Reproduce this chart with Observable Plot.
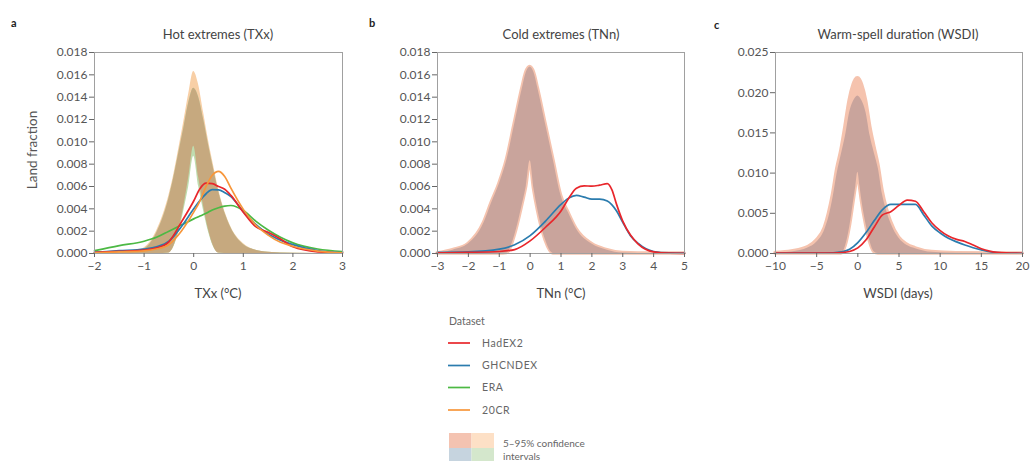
<!DOCTYPE html>
<html><head><meta charset="utf-8">
<script src="https://cdn.jsdelivr.net/npm/d3@7"></script>
<script src="https://cdn.jsdelivr.net/npm/@observablehq/plot@0.6"></script>
<style>
body{margin:0;background:#fff;font-family:Lato,"Open Sans",sans-serif;}
#root{position:relative;width:1030px;height:461px;overflow:hidden;background:#fff;}
.t{position:absolute;white-space:nowrap;transform:translate(-50%,-50%);color:#444;font-size:13px;}
.letter{position:absolute;font-weight:bold;font-size:11px;color:#222;transform:translate(0,-50%);}
.ylab{position:absolute;white-space:nowrap;color:#555;font-size:13.5px;transform:translate(-50%,-50%) rotate(-90deg);}
svg.panel{position:absolute;top:0;}
</style></head><body><div id="root"></div>
<script>
// ---------- Panel a: Hot extremes (TXx) ----------
const xA = [-2,-1.5,-1,-0.75,-0.5,-0.25,0,0.125,0.25,0.375,0.5,0.625,0.75,1,1.25,1.5,1.75,2,2.5,3];
const hadex2A = [0.0001,0.0002,0.0003,0.0005,0.00105,0.0028,0.0047,0.0058,0.0063,0.00625,0.006,0.00575,0.0052,0.0037,0.0024,0.0019,0.0013,0.0006,0.00015,0.00005];
const ghcndexA = [0.0001,0.00025,0.0004,0.0006,0.0011,0.0024,0.004,0.00475,0.00535,0.00572,0.0057,0.00545,0.0051,0.00375,0.0026,0.00175,0.0012,0.0008,0.00025,0.00006];
const eraA = [0.00025,0.0007,0.0011,0.00145,0.002,0.00255,0.0031,0.00335,0.0036,0.0039,0.0041,0.00425,0.0043,0.00385,0.0029,0.0021,0.00145,0.00095,0.0004,0.00018];
const c20crA = [0.00006,0.00015,0.00024,0.0004,0.0008,0.002,0.0037,0.0047,0.006,0.007,0.00735,0.0069,0.00585,0.00395,0.00255,0.00165,0.001,0.00065,0.00022,0.00006];
const xBandA = [-2,-1.5,-1.25,-1,-0.75,-0.5,-0.4,-0.3,-0.2,-0.1,0,0.1,0.2,0.3,0.4,0.5,0.75,1,1.25,1.5,2,3];
const bandHiA = [0,0.00005,0.00012,0.0004,0.0018,0.0049,0.0068,0.009,0.0112,0.0135,0.0148,0.014,0.012,0.0097,0.0076,0.0056,0.0023,0.0008,0.0003,0.00012,0.00003,0];
const bandLoA = [0,0,0,0,0,0.00005,0.00065,0.0021,0.0042,0.0068,0.0096,0.0068,0.0042,0.0021,0.00065,0.00005,0,0,0,0,0,0];
const band20crHiA = [0,0.00006,0.00014,0.0005,0.002,0.0052,0.0071,0.0094,0.0118,0.0143,0.0163,0.0151,0.0126,0.0101,0.0079,0.0058,0.0024,0.0009,0.0003,0.00012,0.00003,0];
const bandEraLoA = [0,0,0,0,0,0.00005,0.0006,0.0019,0.0038,0.006,0.0087,0.006,0.0038,0.0019,0.0006,0.00005,0,0,0,0,0,0];
const xTicksA = [-2,-1,0,1,2,3];
const yTicksAB = [0,0.002,0.004,0.006,0.008,0.010,0.012,0.014,0.016,0.018];

// ---------- Panel b: Cold extremes (TNn) ----------
const xB = [-3,-2,-1,-0.5,0,0.5,1,1.25,1.5,1.75,2,2.25,2.5,2.65,2.8,3,3.25,3.5,4,4.5,5];
const hadex2B = [0.00006,0.0001,0.00018,0.00035,0.00113,0.00235,0.0038,0.00495,0.00585,0.00606,0.00603,0.00612,0.00625,0.0057,0.0044,0.0029,0.00165,0.00085,0.00015,0.00003,0.00002];
const ghcndexB = [0.0001,0.00015,0.00039,0.00078,0.0016,0.0029,0.0044,0.00496,0.0052,0.00505,0.00487,0.00487,0.0047,0.00435,0.0038,0.0028,0.0016,0.0009,0.00018,0.00005,0.00003];
const xBandB = [-3,-2.5,-2,-1.5,-1.25,-1,-0.75,-0.5,-0.25,-0.125,0,0.125,0.25,0.5,0.75,1,1.25,1.5,2,2.5,3,4,5];
const bandHiB = [0,0.0003,0.00085,0.0027,0.0045,0.0062,0.0084,0.0116,0.0148,0.0162,0.0167,0.0162,0.0148,0.0116,0.0084,0.0052,0.0036,0.0022,0.00085,0.0003,0.00005,0,0];
const bandLoB = [0,0,0,0,0,0,0.00005,0.0016,0.0044,0.006,0.0083,0.0058,0.0039,0.0012,0,0,0,0,0,0,0,0,0];
const xTicksB = [-3,-2,-1,0,1,2,3,4,5];

// ---------- Panel c: Warm-spell duration (WSDI) ----------
const xC = [-10,-5,-3,-2,-1,0,1,2,3,4,5,6,7,8,9,10,11,12,13,14,15,16,18,20];
const hadex2C = [0.00004,0.00004,0.00005,0.0001,0.00025,0.0007,0.0017,0.0033,0.0048,0.0052,0.006,0.00665,0.0065,0.0052,0.0038,0.00285,0.00217,0.00175,0.0015,0.00105,0.0006,0.0003,0.00007,0.00003];
const ghcndexC = [0.00004,0.00004,0.00008,0.0002,0.00053,0.00135,0.0026,0.0041,0.00545,0.0061,0.0061,0.0061,0.0061,0.0048,0.0034,0.00255,0.0019,0.00145,0.00105,0.00072,0.00045,0.00022,0.00006,0.00003];
const xBandC = [-10,-8,-6,-5,-4,-3.5,-3,-2.5,-2,-1.5,-1,-0.5,-0.25,0,0.25,0.5,1,1.5,2,2.5,3,3.5,4,5,6,7,9,12,20];
const bandHiC = [0.00005,0.0002,0.0007,0.0014,0.003,0.0046,0.007,0.01,0.0123,0.0146,0.0175,0.019,0.0194,0.0196,0.0194,0.019,0.0175,0.0146,0.0125,0.0105,0.0073,0.0053,0.0038,0.0019,0.001,0.0006,0.00015,0.00003,0];
const bandHadHiC = [0.00006,0.00025,0.0008,0.0016,0.0032,0.005,0.0074,0.0105,0.0128,0.0158,0.019,0.021,0.0216,0.0218,0.0216,0.021,0.019,0.0158,0.0133,0.011,0.0078,0.0056,0.004,0.002,0.0011,0.00065,0.00018,0.00004,0];
const bandLoC = [0,0,0,0,0,0,0,0,0,0.0009,0.0032,0.0066,0.0083,0.0101,0.0084,0.0065,0.0036,0.0014,0.0002,0,0,0,0,0,0,0,0,0,0];
const xTicksC = [-10,-5,0,5,10,15,20];
const yTicksC = [0,0.005,0.010,0.015,0.020,0.025];

// ---------- Legend ----------
const datasets = ["HadEX2","GHCNDEX","ERA","20CR"];
const datasetColors = ["#e8262b","#2b7cae","#4cb944","#f7963a"];
const ciColors = ["#f4c3b1","#fde0c6","#c6d4df","#d4e7cc"];

const root = document.getElementById("root");
const line = (xs, ys, stroke) => Plot.lineY(xs.map((x,i)=>({x, y:ys[i]})), {x:"x", y:"y", stroke, strokeWidth:1.7, curve:"monotone-x"});
const band = (xs, lo, hi, fill, extra={}) => Plot.areaY(xs.map((x,i)=>({x, lo:lo[i], hi:hi[i]})), {x:"x", y1:"lo", y2:"hi", fill, curve:"monotone-x", ...extra});
const fmtX = d => (d < 0 ? "−" : "") + Math.abs(d);

function panel({left, width, ml, mr, xDomain, xTicks, yDomain, yTicks, marks}) {
  const p = Plot.plot({
    width, height:300, marginLeft:ml, marginRight:mr, marginTop:52, marginBottom:47,
    x:{domain:xDomain}, y:{domain:yDomain},
    style:{fontFamily:"Lato, 'Open Sans', sans-serif", fontSize:"12px", color:"#666", background:"transparent", overflow:"visible"},
    marks:[
      ...marks,
      Plot.frame({stroke:"#a0a0a0"}),
      Plot.axisX({ticks:xTicks, tickSize:4, tickPadding:4, label:null, tickFormat:fmtX, fill:"#555"}),
      Plot.axisY({ticks:yTicks, tickSize:5, tickPadding:2, label:null, tickFormat:d3.format(".3f"), fill:"#555"})
    ]
  });
  p.classList.add("panel");
  p.style.left = left + "px";
  root.appendChild(p);
}

panel({left:0, width:350, ml:94, mr:8, xDomain:[-2,3], xTicks:xTicksA, yDomain:[0,0.018], yTicks:yTicksAB, marks:[
  band(xBandA, bandLoA, band20crHiA, "#f8cfa6"),
  band(xBandA, bandEraLoA, bandHiA, "#bfdcae"),
  band(xBandA, bandLoA, bandHiA, "#c6a97f"),
  line(xA, eraA, datasetColors[2]),
  line(xA, ghcndexA, datasetColors[1]),
  line(xA, hadex2A, datasetColors[0]),
  line(xA, c20crA, datasetColors[3])
]});

panel({left:350, width:340, ml:87, mr:6, xDomain:[-3,5], xTicks:xTicksB, yDomain:[0,0.018], yTicks:yTicksAB, marks:[
  band(xBandB, bandLoB, bandHiB, "#f5c3ae", {stroke:"#f5c3ae", strokeWidth:3.5, strokeLinejoin:"round"}),
  band(xBandB, bandLoB, bandHiB, "#c9a49c"),
  line(xB, ghcndexB, datasetColors[1]),
  line(xB, hadex2B, datasetColors[0])
]});

panel({left:690, width:340, ml:85, mr:8, xDomain:[-10,20], xTicks:xTicksC, yDomain:[0,0.025], yTicks:yTicksC, marks:[
  band(xBandC, bandLoC, bandHadHiC, "#f5c3ae", {stroke:"#f5c3ae", strokeWidth:3.5, strokeLinejoin:"round"}),
  band(xBandC, bandLoC, bandHiC, "#c9a49c"),
  line(xC, ghcndexC, datasetColors[1]),
  line(xC, hadex2C, datasetColors[0])
]});

// Titles, letters, axis labels
const texts = [
  {cls:"letter", x:11, y:22, s:"a"}, {cls:"letter", x:369, y:22, s:"b"}, {cls:"letter", x:714, y:24, s:"c"},
  {cls:"t", x:218, y:34, s:"Hot extremes (TXx)"},
  {cls:"t", x:561, y:34, s:"Cold extremes (TNn)"},
  {cls:"t", x:898, y:34, s:"Warm-spell duration (WSDI)"},
  {cls:"t", x:218, y:293, s:"TXx (°C)"},
  {cls:"t", x:561, y:293, s:"TNn (°C)"},
  {cls:"t", x:898, y:293, s:"WSDI (days)"},
  {cls:"ylab", x:32, y:150, s:"Land fraction"}
];
for (const t of texts) {
  const d = document.createElement("div");
  d.className = t.cls; d.style.left = t.x + "px"; d.style.top = t.y + "px"; d.textContent = t.s;
  root.appendChild(d);
}

// Legend (SVG)
const ns = "http://www.w3.org/2000/svg";
const lg = document.createElementNS(ns, "svg");
lg.setAttribute("width", 1030); lg.setAttribute("height", 461);
lg.style.position = "absolute"; lg.style.left = "0"; lg.style.top = "0"; lg.style.pointerEvents = "none";
lg.style.fontFamily = "Lato, 'Open Sans', sans-serif";
function el(tag, attrs, text) {
  const e = document.createElementNS(ns, tag);
  for (const k in attrs) e.setAttribute(k, attrs[k]);
  if (text) e.textContent = text;
  lg.appendChild(e); return e;
}
el("text", {x:449, y:325, "font-size":10.5, fill:"#666"}, "Dataset");
const rowY = [343, 365.5, 387.5, 410];
datasets.forEach((name, i) => {
  el("line", {x1:448, x2:470, y1:rowY[i], y2:rowY[i], stroke:datasetColors[i], "stroke-width":1.7});
  el("text", {x:482, y:rowY[i] + 3.8, "font-size":10.5, fill:"#666", "letter-spacing":"0.6"}, name);
});
const cells = [[449,433],[471.5,433],[449,448],[471.5,448]];
cells.forEach(([x,y], i) => el("rect", {x, y, width:22.5, height:15, fill:ciColors[i]}));
el("text", {x:503, y:446.5, "font-size":10, fill:"#666"}, "5–95% confidence");
el("text", {x:503, y:460, "font-size":10, fill:"#666"}, "intervals");
root.appendChild(lg);
</script>
</body></html>
